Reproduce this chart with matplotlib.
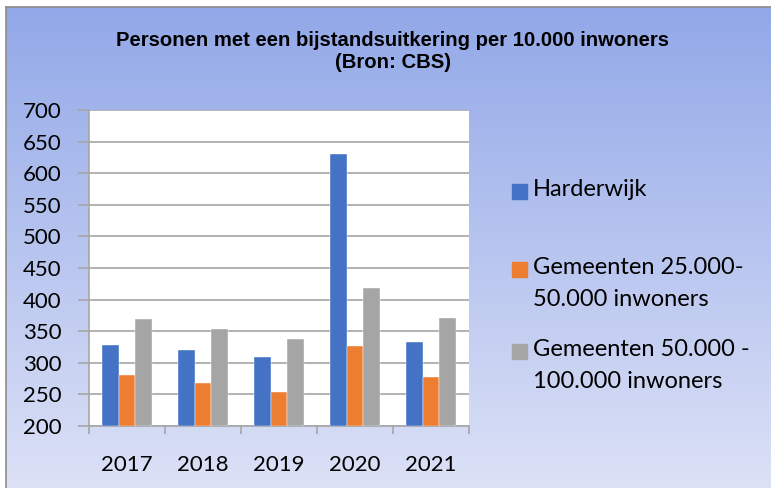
import matplotlib
matplotlib.use("Agg")
import matplotlib.pyplot as plt
import numpy as np
from matplotlib.patches import Rectangle
from matplotlib.lines import Line2D

# data
jaren = ["2017", "2018", "2019", "2020", "2021"]
harderwijk = [328, 321, 309, 630, 333]
gem_25_50 = [281, 268, 254, 326, 278]
gem_50_100 = [369, 353, 337, 418, 371]
reeksen = ["Harderwijk", "Gemeenten 25.000-\n50.000 inwoners", "Gemeenten 50.000 -\n100.000 inwoners"]
kleuren = ["#4472C4", "#ED7D31", "#A5A5A5"]
yticks = [200, 250, 300, 350, 400, 450, 500, 550, 600, 650, 700]

W, H = 771, 488
fig = plt.figure(figsize=(W / 100, H / 100), dpi=100)
fig.patch.set_facecolor("white")

# gradient background of the chart area
bg = fig.add_axes([6 / W, 0, 1 - 6 / W, (H - 7) / H])
top = np.array([146, 168, 232]) / 255
bot = np.array([220, 225, 246]) / 255
t = np.linspace(0, 1, 256)[:, None]
grad = top[None, :] * (1 - t) + bot[None, :] * t
bg.imshow(grad[:, None, :], aspect="auto", extent=[0, 1, 0, 1])
bg.set_axis_off()
fig.add_artist(Line2D([6 / W, 6 / W], [0, (H - 7) / H], color="#8c8c8c", lw=1.2))
fig.add_artist(Line2D([6 / W, 1], [(H - 7) / H, (H - 7) / H], color="#8c8c8c", lw=1.2))

ax = fig.add_axes([89 / W, (H - 426) / H, (469 - 89) / W, (426 - 110) / H])
ax.set_facecolor("white")

x = np.arange(len(jaren))
bw = 0.222
for i, vals in enumerate([harderwijk, gem_25_50, gem_50_100]):
    ax.bar(x + (i - 1) * bw, [v - 200 for v in vals], bw, bottom=200,
           color=kleuren[i], zorder=3, edgecolor="white", linewidth=0.3)

ax.set_xlim(-0.5, len(jaren) - 0.5)
ax.set_ylim(200, 700)
ax.set_yticks(yticks)
ax.grid(axis="y", color="#a6a6a6", lw=1.2, zorder=0)
ax.set_axisbelow(True)

for s in ["top", "right"]:
    ax.spines[s].set_visible(False)
for s in ["left", "bottom"]:
    ax.spines[s].set_color("#a6a6a6")
    ax.spines[s].set_linewidth(1.2)

ax.set_xticks(x)
ax.set_xticklabels(jaren)
ax.set_xticks(np.arange(len(jaren) + 1) - 0.5, minor=True)
ax.tick_params(axis="x", which="major", length=0, pad=21, labelsize=16)
ax.tick_params(axis="x", which="minor", length=6, width=1.2, color="#a6a6a6", direction="out")
ax.tick_params(axis="y", length=8, width=1.2, color="#a6a6a6", pad=12, labelsize=16)
for lab in ax.get_xticklabels() + ax.get_yticklabels():
    lab.set_fontfamily("Lato")

fig.text(393 / W, 1 - 40 / H, "Personen met een bijstandsuitkering per 10.000 inwoners",
         ha="center", va="center", fontsize=14.6, fontweight="bold", family="Liberation Sans")
fig.text(393 / W, 1 - 62 / H, "(Bron: CBS)",
         ha="center", va="center", fontsize=14.6, fontweight="bold", family="Liberation Sans")

# legend drawn beside the plot
leg_y = [192, 270, 352]
for i, lab in enumerate(reeksen):
    fig.add_artist(Rectangle((512 / W, 1 - (leg_y[i] + 7) / H), 15 / W, 15 / H,
                             transform=fig.transFigure, color=kleuren[i]))
    fig.text(533 / W, 1 - (leg_y[i] - 13) / H, lab, ha="left", va="top",
             fontsize=17, family="Lato", linespacing=1.65)

fig.savefig("out.png", dpi=100)
